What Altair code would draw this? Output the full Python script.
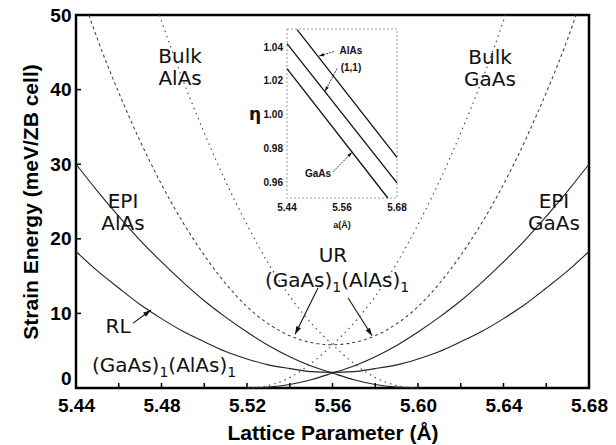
import math
import altair as alt
import pandas as pd

# ---------------- main panel: strain energy (meV / ZB cell) vs lattice parameter (Å)
epi_alas_a = [5.44, 5.45, 5.46, 5.47, 5.48, 5.49, 5.50, 5.51, 5.52, 5.53, 5.54, 5.55, 5.56, 5.57, 5.58, 5.59, 5.60]
epi_alas_e = [30.0, 26.4, 23.0, 19.8, 16.9, 14.2, 11.7, 9.5, 7.5, 5.7, 4.2, 2.95, 2.0, 1.1, 0.47, 0.12, 0.0]

epi_gaas_a = [5.52, 5.53, 5.54, 5.55, 5.56, 5.57, 5.58, 5.59, 5.60, 5.61, 5.62, 5.63, 5.64, 5.65, 5.66, 5.67, 5.68]
epi_gaas_e = [0.0, 0.12, 0.47, 1.1, 2.0, 2.95, 4.2, 5.7, 7.5, 9.5, 11.7, 14.2, 16.9, 19.8, 23.0, 26.4, 30.0]

rl_a = [5.44, 5.45, 5.46, 5.47, 5.48, 5.49, 5.50, 5.51, 5.52, 5.53, 5.54, 5.55, 5.56,
        5.57, 5.58, 5.59, 5.60, 5.61, 5.62, 5.63, 5.64, 5.65, 5.66, 5.67, 5.68]
rl_e = [18.3, 15.7, 13.4, 11.2, 9.3, 7.6, 6.2, 4.9, 3.9, 3.1, 2.6, 2.2, 2.1,
        2.2, 2.6, 3.1, 3.9, 4.9, 6.2, 7.6, 9.3, 11.2, 13.4, 15.7, 18.3]

bulk_alas_a = [5.479, 5.49, 5.50, 5.51, 5.52, 5.53, 5.54, 5.55, 5.56, 5.57, 5.58, 5.59, 5.60]
bulk_alas_e = [50.0, 41.3, 34.2, 27.7, 21.9, 16.7, 12.3, 8.7, 5.8, 3.3, 1.4, 0.34, 0.0]

bulk_gaas_a = [5.52, 5.53, 5.54, 5.55, 5.56, 5.57, 5.58, 5.59, 5.60, 5.61, 5.62, 5.63, 5.641]
bulk_gaas_e = [0.0, 0.34, 1.4, 3.3, 5.8, 8.7, 12.3, 16.7, 21.9, 27.7, 34.2, 41.3, 50.0]

ur_a = [5.446, 5.45, 5.46, 5.47, 5.48, 5.49, 5.50, 5.51, 5.52, 5.53, 5.54, 5.55, 5.56,
        5.57, 5.58, 5.59, 5.60, 5.61, 5.62, 5.63, 5.64, 5.65, 5.66, 5.67, 5.674]
ur_e = [50.0, 46.8, 39.6, 33.1, 27.3, 22.2, 17.8, 14.0, 10.9, 8.6, 7.0, 6.1, 5.8,
        6.1, 7.0, 8.6, 10.9, 14.0, 17.8, 22.2, 27.3, 33.1, 39.6, 46.8, 50.0]

x_ticks_major = [5.44, 5.48, 5.52, 5.56, 5.60, 5.64, 5.68]
x_ticks_all = [5.44, 5.46, 5.48, 5.50, 5.52, 5.54, 5.56, 5.58, 5.60, 5.62, 5.64, 5.66, 5.68]
y_ticks = [0, 10, 20, 30, 40, 50]
x_range = [5.44, 5.68]
y_range = [0, 50]

# curve labels (baseline of the first line)
label_text = ["Bulk\nAlAs", "Bulk\nGaAs", "EPI\nAlAs", "EPI\nGaAs", "UR", "RL"]
label_a = [5.4887, 5.6337, 5.462, 5.6636, 5.5602, 5.4597]
label_e = [43.5, 43.4, 24.1, 24.1, 16.9, 7.4]

# "(GaAs)1(AlAs)1" superlattice labels (centre / baseline)
sl_label_a = [5.5621, 5.4812]
sl_label_e = [13.5, 2.15]

arrow_tail_a = [5.4667, 5.5532, 5.5673]
arrow_tail_e = [8.7, 13.4, 12.06]
arrow_head_a = [5.4751, 5.5425, 5.5785]
arrow_head_e = [10.45, 7.2, 7.0]

# ---------------- inset: eta vs a(Å)
inset_a_range = [5.44, 5.68]
inset_eta_range = [0.951, 1.051]
inset_eta_ticks = [0.96, 0.98, 1.00, 1.02, 1.04]
inset_a_ticks = [5.44, 5.56, 5.68]

eta_alas_a = [5.462, 5.68]
eta_alas = [1.0506, 0.975]
eta_11_a = [5.44, 5.68]
eta_11 = [1.0424, 0.960]
eta_gaas_a = [5.44, 5.660]
eta_gaas = [1.0276, 0.951]

inset_label_text = ["AlAs", "(1,1)", "GaAs"]
inset_label_a = [5.5796, 5.5796, 5.5076]
inset_label_eta = [1.0382, 1.0282, 0.9653]
inset_tail_a = [5.5425, 5.549, 5.5404]
inset_tail_eta = [1.0376, 1.0276, 0.9665]
inset_head_a = [5.5098, 5.5229, 5.5818]
inset_head_eta = [1.035, 1.0141, 0.978]

# ---------------- layout
W, H = 513, 373
INSET_X = [211, 321]
INSET_Y = [183, 14]
LAB_FONT = "Liberation Sans"
TXT_FONT = "DejaVu Sans"
TXT_SIZE = 20
SUB_SIZE = 14
ARROW = "M0,0L-0.32,1L0.32,1Z"


def curve(name, a, e):
    return pd.DataFrame({"a": a, "e": e, "curve": name})


solid = pd.concat([curve("EPI AlAs", epi_alas_a, epi_alas_e),
                   curve("EPI GaAs", epi_gaas_a, epi_gaas_e),
                   curve("RL", rl_a, rl_e)])
bulk = pd.concat([curve("Bulk AlAs", bulk_alas_a, bulk_alas_e),
                  curve("Bulk GaAs", bulk_gaas_a, bulk_gaas_e)])
ur = curve("UR", ur_a, ur_e)


def arrow_angles(ta, te, ha, he, sx, sy):
    out = []
    for a0, e0, a1, e1 in zip(ta, te, ha, he):
        dx = (a1 - a0) * sx
        dy = (e1 - e0) * sy
        out.append(math.degrees(math.atan2(dx, dy)) % 360)
    return out


sx_main = W / (x_range[1] - x_range[0])
sy_main = H / (y_range[1] - y_range[0])
arrows = pd.DataFrame({"a": arrow_tail_a, "e": arrow_tail_e,
                       "a2": arrow_head_a, "e2": arrow_head_e})
arrows["ang"] = arrow_angles(arrow_tail_a, arrow_tail_e, arrow_head_a, arrow_head_e, sx_main, sy_main)

x_axis = alt.Axis(values=x_ticks_major, format=".2f", labelFont=LAB_FONT, labelFontWeight="bold",
                  labelFontSize=19, labelColor="black", labelPadding=8, ticks=False, domain=False,
                  grid=False, title="Lattice Parameter (\u00c5)", titleFont=LAB_FONT,
                  titleFontSize=21, titleFontWeight="bold", titleColor="black", titlePadding=7,
                  labelFlush=False)
y_axis = alt.Axis(values=y_ticks, labelFont=LAB_FONT, labelFontWeight="bold", labelFontSize=19,
                  labelColor="black", labelPadding=5, ticks=False, domain=False, grid=False,
                  labelBaseline={"condition": {"test": "datum.value == 0", "value": "bottom"},
                                 "value": "middle"},
                  title="Strain Energy (meV/ZB cell)", titleFont=LAB_FONT, titleFontSize=21,
                  titleFontWeight="bold", titleColor="black", titlePadding=8)
xs = alt.Scale(domain=x_range, nice=False, zero=False)
ys = alt.Scale(domain=y_range, nice=False, zero=False)
X = alt.X("a:Q", scale=xs, axis=x_axis)
Y = alt.Y("e:Q", scale=ys, axis=y_axis)

solid_lines = alt.Chart(solid).mark_line(color="#222", strokeWidth=1.1, interpolate="monotone").encode(
    x=X, y=Y, detail="curve:N", order="a:Q")
bulk_lines = alt.Chart(bulk).mark_line(color="#444", strokeWidth=1.1, strokeDash=[1.5, 4],
                                       interpolate="monotone").encode(x=X, y=Y, detail="curve:N", order="a:Q")
ur_lines = alt.Chart(ur).mark_line(color="#444", strokeWidth=1.1, strokeDash=[3, 3],
                                   interpolate="monotone").encode(x=X, y=Y, order="a:Q")

xt = alt.Chart(pd.DataFrame({"a": x_ticks_all})).mark_rule(color="black", strokeWidth=1.5).encode(
    x=X, y=alt.value(H), y2=alt.value(H - 5))
yt = alt.Chart(pd.DataFrame({"e": y_ticks[1:-1]})).mark_rule(color="black", strokeWidth=1.5).encode(
    y=Y, x=alt.value(0), x2=alt.value(5))

labels = alt.Chart(pd.DataFrame({"a": label_a, "e": label_e, "t": label_text})).mark_text(
    font=TXT_FONT, fontSize=TXT_SIZE, color="#111", align="center", baseline="alphabetic",
    lineBreak="\n", lineHeight=22).encode(x=X, y=Y, text="t:N")

# superlattice label "(GaAs)1(AlAs)1" set piece by piece so the subscripts sit low and large
DV = {"(": 0.390, ")": 0.390, "G": 0.775, "a": 0.613, "A": 0.684, "s": 0.521, "l": 0.278, "1": 0.636}
pieces = [("(GaAs)", TXT_SIZE, 0), ("1", SUB_SIZE, 5), ("(AlAs)", TXT_SIZE, 0), ("1", SUB_SIZE, 5)]
widths = [sum(DV[c] for c in t) * fs for t, fs, _ in pieces]
offset = -sum(widths) / 2
sl_layers = []
sl_df = pd.DataFrame({"a": sl_label_a, "e": sl_label_e})
for (t, fs, dy), w in zip(pieces, widths):
    sl_layers.append(
        alt.Chart(sl_df).mark_text(font=TXT_FONT, fontSize=fs, color="#111", align="left",
                                   baseline="alphabetic", dx=offset, dy=dy, text=t).encode(x=X, y=Y))
    offset += w

shafts = alt.Chart(arrows).mark_rule(color="#111", strokeWidth=1.1).encode(x=X, y=Y, x2="a2:Q", y2="e2:Q")
heads = alt.Chart(arrows).mark_point(shape=ARROW, filled=True, color="#111", size=256, opacity=1).encode(
    x=alt.X("a2:Q", scale=xs, axis=x_axis), y=alt.Y("e2:Q", scale=ys, axis=y_axis),
    angle=alt.Angle("ang:Q", scale=None))

main = alt.layer(solid_lines, bulk_lines, ur_lines, xt, yt, labels, *sl_layers, shafts, heads)

# ---------------- inset panel
ixs = alt.Scale(domain=inset_a_range, range=INSET_X, nice=False, zero=False)
iys = alt.Scale(domain=inset_eta_range, range=INSET_Y, nice=False, zero=False)
IX = alt.X("ia:Q", scale=ixs, axis=None)
IY = alt.Y("eta:Q", scale=iys, axis=None)

eta_lines = pd.concat([
    pd.DataFrame({"ia": eta_alas_a, "eta": eta_alas, "curve": "AlAs"}),
    pd.DataFrame({"ia": eta_11_a, "eta": eta_11, "curve": "(1,1)"}),
    pd.DataFrame({"ia": eta_gaas_a, "eta": eta_gaas, "curve": "GaAs"}),
])

box = alt.Chart(pd.DataFrame({"ia": [inset_a_range[0]], "ia2": [inset_a_range[1]],
                              "eta": [inset_eta_range[0]], "eta2": [inset_eta_range[1]]})).mark_rect(
    fill="white", stroke="#9a9a9a", strokeWidth=1, strokeDash=[2, 2]).encode(
    x=IX, x2="ia2:Q", y=IY, y2="eta2:Q")
ilines = alt.Chart(eta_lines).mark_line(color="#111", strokeWidth=1.3).encode(x=IX, y=IY, detail="curve:N")

iy_lab = alt.Chart(pd.DataFrame({"eta": inset_eta_ticks,
                                 "t": [f"{v:.2f}" for v in inset_eta_ticks]})).mark_text(
    font=LAB_FONT, fontWeight="bold", fontSize=10, color="#111", align="right", baseline="middle", dx=-4).encode(
    x=IX, y=IY, text="t:N").transform_calculate(ia=str(inset_a_range[0]))
ix_lab = alt.Chart(pd.DataFrame({"ia": inset_a_ticks,
                                 "t": [f"{v:.2f}" for v in inset_a_ticks]})).mark_text(
    font=LAB_FONT, fontWeight="bold", fontSize=10, color="#111", align="center", baseline="middle", dy=10).encode(
    x=IX, y=IY, text="t:N").transform_calculate(eta=str(inset_eta_range[0]))
ititle = alt.Chart(pd.DataFrame({"ia": [(inset_a_range[0] + inset_a_range[1]) / 2],
                                 "t": ["a(\u00c5)"]})).mark_text(
    font=LAB_FONT, fontWeight="bold", fontSize=9, color="#111", align="center", baseline="middle", dy=27).encode(
    x=IX, y=IY, text="t:N").transform_calculate(eta=str(inset_eta_range[0]))
eta_title = alt.Chart(pd.DataFrame({"eta": [1.0], "t": ["\u03b7"]})).mark_text(
    font=TXT_FONT, fontWeight="bold", fontSize=17, color="#111", align="center", baseline="middle", dx=-32).encode(
    x=IX, y=IY, text="t:N").transform_calculate(ia=str(inset_a_range[0]))

sx_in = (INSET_X[1] - INSET_X[0]) / (inset_a_range[1] - inset_a_range[0])
sy_in = (INSET_Y[0] - INSET_Y[1]) / (inset_eta_range[1] - inset_eta_range[0])
iarrows = pd.DataFrame({"ia": inset_tail_a, "eta": inset_tail_eta,
                        "ia2": inset_head_a, "eta2": inset_head_eta})
iarrows["ang"] = arrow_angles(inset_tail_a, inset_tail_eta, inset_head_a, inset_head_eta, sx_in, sy_in)
ishafts = alt.Chart(iarrows).mark_rule(color="#222", strokeWidth=0.9, strokeDash=[2, 1]).encode(
    x=IX, y=IY, x2="ia2:Q", y2="eta2:Q")
iheads = alt.Chart(iarrows).mark_point(shape=ARROW, filled=True, color="#111", size=100, opacity=1).encode(
    x=alt.X("ia2:Q", scale=ixs, axis=None), y=alt.Y("eta2:Q", scale=iys, axis=None),
    angle=alt.Angle("ang:Q", scale=None))
ilabels = alt.Chart(pd.DataFrame({"ia": inset_label_a, "eta": inset_label_eta,
                                  "t": inset_label_text})).mark_text(
    font=LAB_FONT, fontWeight="bold", fontSize=10, color="#111", align="center", baseline="middle").encode(
    x=IX, y=IY, text="t:N")

inset = alt.layer(box, ilines, iy_lab, ix_lab, ititle, eta_title, ishafts, iheads, ilabels)

chart = alt.layer(main, inset).resolve_scale(x="independent", y="independent").properties(
    width=W, height=H,
    padding={"left": 76, "top": 15, "right": 27, "bottom": 57},
    autosize=alt.AutoSizeParams(type="none"),
    background="white",
).configure_view(stroke="black", strokeWidth=2.5)

chart.save("out.html", embed_options={"renderer": "svg", "actions": False})
